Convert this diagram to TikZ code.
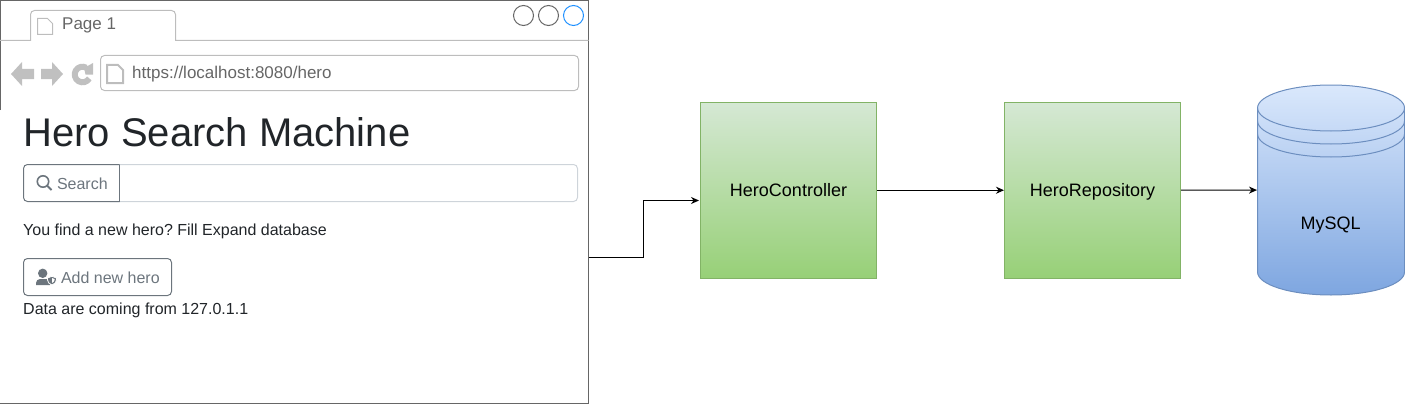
\documentclass[tikz,border=0pt]{standalone}
\usepackage{fontspec}
\setmainfont{Liberation Sans}
\usetikzlibrary{arrows.meta}
\definecolor{framegray}{HTML}{666666}
\definecolor{tabgray}{HTML}{BDBDBD}
\definecolor{navgray}{HTML}{C0C0C0}
\definecolor{pageblue}{HTML}{1E90FF}
\definecolor{textdark}{HTML}{212529}
\definecolor{btngray}{HTML}{6C757D}
\definecolor{inputgray}{HTML}{CED4DA}
\definecolor{svcborder}{HTML}{82B366}
\definecolor{svctop}{HTML}{D5E8D4}
\definecolor{svcbottom}{HTML}{97D077}
\definecolor{dbborder}{HTML}{6C8EBF}
\definecolor{dbtop}{HTML}{DAE8FC}
\definecolor{dbbottom}{HTML}{7EA6E0}
\tikzset{
  txt/.style={anchor=base west, inner sep=0pt, font=\fontsize{16}{18}\selectfont},
  chrometxt/.style={anchor=base west, inner sep=0pt, text=framegray, font=\fontsize{17}{19}\selectfont},
  service/.style={draw=svcborder, top color=svctop, bottom color=svcbottom, minimum width=176pt, minimum height=175.5pt, inner sep=0pt, text height=13pt, text depth=0pt, font=\fontsize{18}{20}\selectfont},
  link/.style={-{Stealth[length=8pt,width=7pt]}, line width=1pt},
}
\frenchspacing
\begin{document}
\begin{tikzpicture}[x=1pt,y=-1pt,line width=1pt]
  \useasboundingbox (0,0) rectangle (1405,404);
  % browser window
  \draw[framegray] (0.5,110)--(0.5,0.5)--(588.5,0.5)--(588.5,403.5)--(0,403.5);
  \draw[tabgray] (0,40.5)--(30.5,40.5)--(30.5,14.5) arc[start angle=180,end angle=270,radius=4]--(171.5,10.5) arc[start angle=270,end angle=360,radius=4]--(175.5,40.5)--(588.5,40.5);
  \draw[tabgray] (37.5,18.5)--(47.5,18.5)--(52.5,23.5)--(52.5,34.5)--(37.5,34.5)--cycle;
  \node[chrometxt] (tabname) at (61.7,30) {Page 1};
  \draw[framegray] (523.5,15.5) circle[radius=10];
  \draw[framegray] (548.5,15.5) circle[radius=10];
  \draw[pageblue] (573.5,15.5) circle[radius=10];
  % navigation icons
  \fill[navgray] (11,74)--(22,62)--(22,69)--(34,69)--(34,79)--(22,79)--(22,86)--cycle;
  \fill[navgray] (63,74)--(52,62)--(52,69)--(41,69)--(41,79)--(52,79)--(52,86)--cycle;
  \draw[navgray,line width=6pt] (89.3,78.4) arc[start angle=30,end angle=300,radius=7.8];
  \fill[navgray] (93,63)--(93,74.5)--(85.5,74.5)--(84,68)--cycle;
  % address bar
  \draw[tabgray,rounded corners=4pt] (100.5,55.5) rectangle (578.5,90.5);
  \draw[tabgray,line width=2pt] (107,65)--(118,65)--(123,70)--(123,83)--(107,83)--cycle;
  \node[chrometxt] (url) at (131.7,78) {https://localhost:8080/hero};
  % page content
  \node[anchor=base west,inner sep=0pt,text=textdark,font=\fontsize{40}{44}\selectfont] (title) at (23,146) {Hero Search Machine};
  \draw[inputgray,rounded corners=4pt] (110,164.5)--(577.5,164.5)--(577.5,201.5)--(110,201.5);
  \draw[btngray,rounded corners=4pt] (119.5,164.5)--(23.5,164.5)--(23.5,201.5)--(119.5,201.5);
  \draw[btngray] (119.5,164.5)--(119.5,201.5);
  \draw[btngray,line width=1.6pt] (43,181.5) circle[radius=5.7];
  \draw[btngray,line width=2pt] (47,185.5)--(51.5,190);
  \node[txt,text=btngray] (search) at (56.5,189) {Search};
  \node[txt,text=textdark] (hint) at (22.7,235.5) {You find a new hero? Fill Expand database};
  \draw[btngray,rounded corners=4pt] (23.5,258.5) rectangle (171.5,295.5);
  \fill[btngray] (42.7,273.3) circle[radius=4.7];
  \fill[btngray] (36,285)--(36,283) arc[start angle=180,end angle=270,radius=4]--(47,279)--(50,281)--(50,285)--cycle;
  \filldraw[btngray,draw=white,line width=0.8pt] (47.5,278)--(52,276.3)--(56.5,278)--(56.5,280) .. controls (56.5,282) and (54.5,284.3) .. (52,285) .. controls (49.5,284.3) and (47.5,282) .. (47.5,280)--cycle;
  \fill[white] (52,278)--(54.5,279)--(54.5,280) .. controls (54.5,281) and (53.5,282.3) .. (52,283)--cycle;
  \node[txt,text=btngray] (addhero) at (60.5,283) {Add new hero};
  \node[txt,text=textdark] (origin) at (22.7,314) {Data are coming from 127.0.1.1};
  % services
  \node[service] (controller) at (788.5,190.25) {HeroController};
  \node[service] (repository) at (1092.5,190.25) {HeroRepository};
  % database
  \node[minimum width=147pt,minimum height=210pt,inner sep=0pt] (mysql) at (1331,190) {};
  \draw[dbborder,top color=dbtop,bottom color=dbbottom] (1257.5,108) arc[start angle=180,end angle=360,x radius=73.5,y radius=23]--(1404.5,272) arc[start angle=0,end angle=180,x radius=73.5,y radius=23]--cycle;
  \draw[dbborder] (1257.5,108) arc[start angle=180,end angle=0,x radius=73.5,y radius=23];
  \draw[dbborder] (1257.5,121) arc[start angle=180,end angle=0,x radius=73.5,y radius=23];
  \draw[dbborder] (1257.5,134) arc[start angle=180,end angle=0,x radius=73.5,y radius=23];
  \node[anchor=base,inner sep=0pt,font=\fontsize{18}{20}\selectfont] (mysqlname) at (1330.5,229) {MySQL};
  % connectors
  \coordinate (pageout) at (588.5,257);
  \coordinate (ctrlin) at (699,200.5);
  \draw[link] (pageout)--(643.5,257)--(643.5,200.5)--(ctrlin);
  \draw[link] (controller)--(repository);
  \draw[link] (repository)--(mysql);
\end{tikzpicture}
\end{document}
